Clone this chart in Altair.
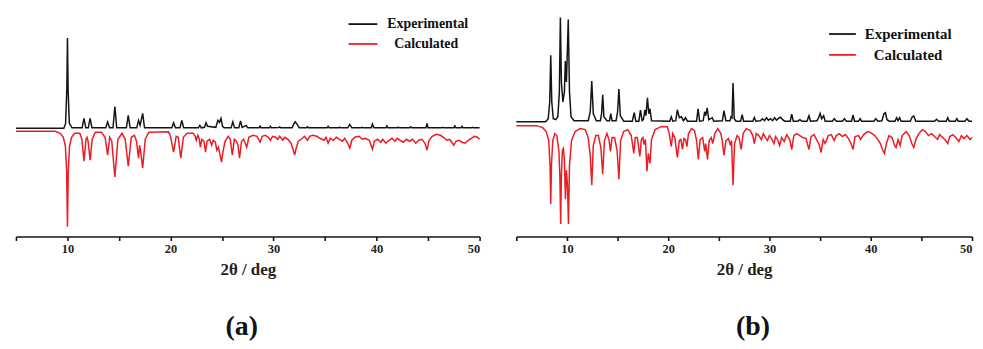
import altair as alt
import pandas as pd

# (2theta, intensity) vertices, arbitrary units
EXP_A = [
    (5.0, 0), (9.65, 0), (9.82, 5), (9.94, 40), (10.0, 91), (10.06, 40), (10.18, 5), (10.45, 0.5),
    (11.42, 0.5), (11.6, 10), (11.78, 0.5), (12.02, 0.5), (12.2, 10), (12.38, 0.5),
    (13.72, 0.5), (13.9, 6.5), (14.08, 0.5), (14.42, 0.5), (14.6, 22), (14.78, 0.5),
    (15.72, 0.5), (15.9, 13), (16.08, 0.5), (16.72, 0.5), (16.9, 8), (17.05, 3), (17.3, 15), (17.48, 0.5),
    (20.12, 0.5), (20.3, 5.5), (20.48, 0.5), (20.92, 0.5), (21.1, 8), (21.28, 0.5),
    (22.7, 0.5), (22.85, 3), (23.0, 0.5), (23.3, 1), (23.45, 5.5), (23.6, 2),
    (24.4, 1), (24.6, 8), (24.75, 6), (24.9, 10), (25.05, 2), (25.2, 0.5),
    (25.88, 0.5), (26.05, 6.5), (26.22, 0.5), (26.63, 0.5), (26.8, 7.5), (26.95, 1), (27.35, 3), (27.5, 0.5),
    (28.6, 0.5), (28.7, 2.3), (28.8, 0.5), (29.6, 0.5), (29.7, 2), (29.8, 0.5),
    (30.5, 0.8), (30.6, 1.5), (30.7, 0.5), (31.8, 0.5), (31.95, 4), (32.1, 6.5), (32.3, 4), (32.5, 0.5),
    (33.2, 0.5), (33.3, 1.5), (33.4, 0.5), (35.2, 0.5), (35.3, 2), (35.4, 0.5),
    (36.3, 0.5), (36.4, 1.2), (36.5, 0.5), (37.2, 0.5), (37.4, 4), (37.6, 0.5),
    (38.5, 0.5), (38.6, 1), (38.7, 0.5), (39.5, 0.5), (39.6, 4.3), (39.75, 0.5),
    (40.9, 0.5), (41.0, 2.5), (41.1, 0.5), (42.0, 0.5), (42.1, 1.2), (42.2, 0.5),
    (43.2, 0.5), (43.3, 1.5), (43.4, 0.5), (44.8, 0.5), (44.9, 5), (45.0, 0.5),
    (46.3, 0.5), (46.4, 1), (46.5, 0.5), (47.5, 0.5), (47.6, 2.5), (47.7, 0.5),
    (48.2, 0.5), (48.3, 2), (48.4, 0.5), (49.2, 0.5), (49.3, 1), (49.4, 0.5), (50.0, 0.5),
]

CALC_A = [
    (5.0, 0), (8.8, 0), (9.3, 2), (9.6, 6), (9.8, 15), (9.92, 40), (10.0, 96), (10.08, 40), (10.2, 15),
    (10.4, 6), (10.7, 2), (11.2, 2), (11.4, 8), (11.6, 30), (11.8, 8), (11.9, 6), (12.0, 10), (12.2, 29),
    (12.4, 8), (12.7, 1), (13.3, 1), (13.65, 6), (13.9, 24), (14.1, 6), (14.3, 10), (14.6, 46), (14.9, 8),
    (15.3, 2), (15.6, 8), (15.9, 35), (16.2, 6), (16.5, 4), (16.7, 10), (16.9, 27), (17.0, 14), (17.1, 20),
    (17.3, 37), (17.55, 8), (17.9, 1), (19.8, 0.5), (20.0, 5), (20.3, 21), (20.55, 5), (20.75, 6), (21.0, 27),
    (21.25, 6), (21.6, 2), (22.2, 2), (22.4, 5), (22.5, 9), (22.65, 4), (22.8, 8), (22.9, 16), (23.05, 8),
    (23.25, 10), (23.4, 21), (23.55, 10), (23.8, 8), (24.0, 14), (24.15, 9), (24.35, 11), (24.5, 19),
    (24.65, 16), (24.85, 26), (24.95, 31), (25.1, 20), (25.3, 10), (25.6, 5), (25.8, 8), (26.0, 24),
    (26.2, 8), (26.4, 10), (26.55, 14), (26.7, 27), (26.9, 10), (27.1, 8), (27.4, 16), (27.6, 6),
    (28.0, 4), (28.4, 5), (28.7, 11), (28.9, 5), (29.2, 4), (29.5, 6), (29.7, 9), (29.9, 5), (30.2, 6),
    (30.4, 8), (30.6, 5), (30.9, 9), (31.1, 6), (31.4, 8), (31.7, 12), (31.9, 18), (32.05, 24), (32.2, 17),
    (32.4, 10), (32.7, 8), (33.0, 5), (33.3, 9), (33.5, 5), (33.8, 4), (34.2, 5), (34.5, 7), (34.9, 9),
    (35.1, 6), (35.3, 12), (35.5, 7), (35.8, 9), (36.1, 6), (36.4, 8), (36.7, 10), (36.9, 7), (37.2, 12),
    (37.4, 17), (37.6, 9), (37.9, 6), (38.3, 5), (38.6, 8), (38.9, 7), (39.3, 9), (39.6, 18), (39.8, 10),
    (40.1, 8), (40.4, 11), (40.6, 8), (40.9, 12), (41.2, 9), (41.5, 7), (41.8, 10), (42.0, 7), (42.3, 9),
    (42.6, 11), (42.9, 8), (43.2, 10), (43.5, 8), (43.8, 12), (44.1, 9), (44.4, 8), (44.7, 12), (44.9, 19),
    (45.1, 9), (45.4, 5), (45.8, 3), (46.2, 4), (46.5, 6), (46.8, 9), (47.1, 8), (47.3, 11), (47.5, 14),
    (47.7, 10), (48.0, 9), (48.3, 11), (48.6, 12), (48.9, 9), (49.2, 7), (49.5, 5), (49.8, 6), (50.0, 8),
]

EXP_B = [
    (5.0, 0), (7.9, 0), (8.15, 3), (8.3, 20), (8.4, 67), (8.5, 20), (8.65, 3), (8.9, 2), (9.1, 5),
    (9.25, 30), (9.35, 105), (9.45, 40), (9.6, 20), (9.75, 30), (9.84, 61), (9.95, 40), (10.13, 103),
    (10.25, 30), (10.4, 5), (10.7, 1), (12.1, 1), (12.3, 10), (12.45, 41), (12.6, 8), (12.9, 1),
    (13.3, 1), (13.42, 8), (13.53, 27), (13.65, 5), (13.95, 1), (14.2, 1), (14.33, 8), (14.45, 1),
    (14.85, 1), (15.0, 10), (15.13, 33), (15.27, 6), (15.6, 0.5), (16.45, 0.5), (16.64, 9), (16.8, 0.5),
    (17.1, 0.5), (17.26, 11.7), (17.42, 1), (17.55, 2), (17.7, 12), (17.8, 6), (17.95, 24), (18.08, 8),
    (18.2, 13), (18.35, 1), (20.15, 0.5), (20.3, 5), (20.45, 0.5), (20.75, 1), (20.9, 12), (21.1, 4),
    (21.3, 5), (21.5, 1), (21.7, 4), (21.9, 0.5), (22.8, 0.5), (22.95, 13), (23.1, 0.5), (23.45, 1),
    (23.6, 10), (23.7, 6), (23.85, 14), (24.0, 2), (24.35, 4), (24.5, 0.5), (25.35, 1), (25.5, 11),
    (25.7, 1), (26.1, 1), (26.2, 5), (26.3, 4), (26.4, 39), (26.52, 3), (26.7, 0.5), (27.15, 0.5),
    (27.3, 7), (27.45, 0.5), (28.35, 0.5), (28.5, 4.3), (28.65, 0.5), (29.1, 1), (29.3, 3), (29.5, 1),
    (29.7, 4), (29.9, 1.5), (30.1, 3), (30.3, 1), (30.5, 4), (30.7, 1.5), (30.9, 3.5), (31.1, 4.5),
    (31.3, 2), (31.5, 0.5), (32.05, 0.5), (32.2, 7.7), (32.35, 0.5), (32.8, 0.5), (33.0, 2), (33.2, 0.5),
    (33.7, 0.5), (33.9, 6), (34.05, 0.5), (34.7, 1), (34.85, 4), (35.0, 8.3), (35.15, 3), (35.35, 6),
    (35.5, 0.5), (36.2, 0.5), (36.4, 3), (36.6, 0.5), (37.2, 0.5), (37.4, 3), (37.6, 0.5), (38.1, 0.5),
    (38.25, 6.7), (38.4, 0.5), (38.8, 0.5), (38.95, 3), (39.1, 0.5), (40.3, 0.5), (40.5, 3), (40.7, 0.5),
    (41.1, 1), (41.3, 8), (41.45, 9), (41.6, 2), (41.85, 0.5), (42.4, 0.5), (42.55, 4), (42.7, 1),
    (42.85, 4), (43.0, 0.5), (43.9, 0.5), (44.1, 5), (44.25, 5.7), (44.45, 0.5), (46.3, 0.5), (46.5, 2.5),
    (46.7, 0.5), (47.45, 0.5), (47.6, 4), (47.75, 0.5), (48.35, 0.5), (48.5, 3), (48.65, 0.5),
    (49.3, 0.5), (49.5, 3), (49.7, 0.5), (50.0, 0.5),
]

CALC_B = [
    (5.0, 0), (7.0, 0), (7.6, 2), (7.95, 6), (8.2, 15), (8.33, 40), (8.4, 79), (8.47, 40), (8.6, 15),
    (8.8, 8), (9.0, 10), (9.2, 25), (9.3, 50), (9.38, 99), (9.45, 50), (9.55, 25), (9.65, 23), (9.75, 35),
    (9.85, 74), (9.95, 45), (10.05, 60), (10.15, 99), (10.25, 40), (10.45, 15), (10.8, 6), (11.3, 3),
    (11.8, 4), (12.1, 12), (12.3, 30), (12.45, 60), (12.6, 20), (12.85, 10), (13.1, 10), (13.35, 22),
    (13.53, 49), (13.7, 15), (13.95, 8), (14.15, 14), (14.3, 26), (14.45, 12), (14.7, 12), (14.95, 25),
    (15.13, 54), (15.3, 15), (15.6, 6), (16.0, 4), (16.35, 10), (16.6, 28), (16.75, 12), (16.95, 12),
    (17.2, 31), (17.35, 14), (17.5, 12), (17.62, 19), (17.75, 14), (17.9, 46), (18.03, 28), (18.2, 38),
    (18.35, 14), (18.7, 4), (19.3, 1), (19.9, 1), (20.1, 8), (20.3, 21), (20.45, 8), (20.65, 12),
    (20.9, 32), (21.1, 15), (21.25, 14), (21.4, 24), (21.55, 13), (21.7, 14), (21.85, 21), (22.0, 8),
    (22.3, 3), (22.6, 5), (22.8, 15), (22.97, 34), (23.15, 14), (23.4, 12), (23.6, 26), (23.7, 18),
    (23.88, 34), (24.05, 15), (24.25, 12), (24.4, 18), (24.6, 8), (24.9, 3), (25.2, 8), (25.35, 16),
    (25.5, 30), (25.7, 15), (25.95, 13), (26.15, 20), (26.25, 15), (26.4, 60), (26.55, 18), (26.8, 10),
    (27.0, 12), (27.2, 24), (27.4, 8), (27.7, 3), (28.1, 5), (28.35, 10), (28.5, 18), (28.7, 8),
    (28.95, 10), (29.2, 14), (29.4, 8), (29.6, 12), (29.8, 15), (30.0, 10), (30.2, 13), (30.45, 18),
    (30.6, 11), (30.8, 14), (31.0, 20), (31.2, 12), (31.45, 16), (31.7, 9), (32.0, 14), (32.2, 24),
    (32.4, 10), (32.7, 8), (33.0, 10), (33.3, 12), (33.6, 13), (33.9, 24), (34.1, 11), (34.4, 9),
    (34.7, 15), (34.9, 19), (35.1, 27), (35.3, 14), (35.5, 18), (35.8, 10), (36.1, 9), (36.4, 15),
    (36.6, 10), (36.9, 8), (37.2, 11), (37.5, 9), (37.8, 13), (38.05, 18), (38.25, 24), (38.45, 11),
    (38.8, 10), (39.0, 14), (39.3, 9), (39.7, 6), (40.0, 7), (40.4, 10), (40.7, 14), (40.95, 18),
    (41.15, 24), (41.35, 28), (41.55, 18), (41.8, 10), (42.1, 12), (42.35, 20), (42.5, 22), (42.7, 14),
    (42.9, 20), (43.1, 10), (43.5, 6), (43.8, 10), (44.05, 18), (44.25, 22), (44.45, 14), (44.75, 8),
    (45.1, 4), (45.4, 6), (45.7, 10), (46.0, 8), (46.3, 11), (46.6, 14), (46.8, 9), (47.1, 12),
    (47.4, 15), (47.6, 18), (47.8, 11), (48.1, 9), (48.4, 12), (48.7, 16), (48.95, 10), (49.2, 13),
    (49.5, 10), (49.8, 14), (50.0, 12),
]

X_TICKS = [5, 10, 15, 20, 25, 30, 35, 40, 45, 50]
SERIES = ["Experimental", "Calculated"]
PANEL_LABELS = ["(a)", "(b)"]
X_TITLE = "2θ / deg"

FONT = "Liberation Serif"
BLACK = "#141414"
RED = "#ec1c24"


def frame(pairs):
    return pd.DataFrame(pairs, columns=["two_theta", "intensity"])


def panel(exp, calc, off, ydomain, width, label, label_dx, leg):
    xenc = alt.X(
        "two_theta:Q",
        scale=alt.Scale(domain=[5, 50], nice=False, zero=False),
        axis=alt.Axis(
            values=X_TICKS,
            labelExpr="datum.value % 10 == 0 ? datum.label : ''",
            title=X_TITLE,
        ),
    )
    yenc = alt.Y("y:Q", scale=alt.Scale(domain=ydomain, nice=False, zero=False), axis=None)

    exp_line = (
        alt.Chart(frame(exp))
        .transform_calculate(y=f"datum.intensity + {off}")
        .mark_line(color=BLACK, strokeWidth=1.5)
        .encode(x=xenc, y=yenc)
    )
    calc_line = (
        alt.Chart(frame(calc))
        .transform_calculate(y=f"-(datum.intensity + {off})")
        .mark_line(color=RED, strokeWidth=1.5)
        .encode(x=xenc, y=yenc)
    )

    lx0, lx1, tx_exp, tx_calc, y_exp, y_calc, fs = leg
    layers = [exp_line, calc_line]
    for name, color, tx, ly in [(SERIES[0], BLACK, tx_exp, y_exp), (SERIES[1], RED, tx_calc, y_calc)]:
        d = pd.DataFrame({"label": [name]})
        layers.append(
            alt.Chart(d).mark_rule(color=color, strokeWidth=1.8).encode(
                x=alt.value(lx0), x2=alt.value(lx1), y=alt.value(ly)
            )
        )
        layers.append(
            alt.Chart(d).mark_text(
                align="left", baseline="middle", font=FONT, fontSize=fs,
                fontWeight="bold", color="#111"
            ).encode(x=alt.value(tx), y=alt.value(ly), text="label:N")
        )

    return alt.layer(*layers).properties(
        width=width,
        height=221,
        title=alt.TitleParams(
            label, orient="bottom", fontSize=28, font=FONT, fontWeight="bold",
            color="#111", offset=36, dx=label_dx,
        ),
    )


pa = panel(EXP_A, CALC_A, 1.5, [-107.5, 113.5], 467, PANEL_LABELS[0], -6,
           (335, 364, 374, 381, 7, 27, 14))
pb = panel(EXP_B, CALC_B, 2.0, [-113.7, 107.3], 459, PANEL_LABELS[1], 9,
           (315, 342, 351, 360, 17, 38, 15))

chart = (
    alt.hconcat(pa, pb, spacing=37, bounds="flush")
    .properties(padding={"left": 5, "top": 5, "right": 0, "bottom": 0})
    .configure_view(stroke=None)
    .configure_axis(
        grid=False,
        domainColor=BLACK,
        domainWidth=1.6,
        tickColor=BLACK,
        tickWidth=1.6,
        tickSize=4,
        labelFont=FONT,
        labelFontWeight="bold",
        labelFontSize=12.5,
        labelColor="#222",
        labelPadding=2,
        titleFont=FONT,
        titleFontWeight="bold",
        titleFontSize=17,
        titleColor="#222",
        titlePadding=7,
    )
)

chart.save("out.html", embed_options={"renderer": "svg", "actions": False})
